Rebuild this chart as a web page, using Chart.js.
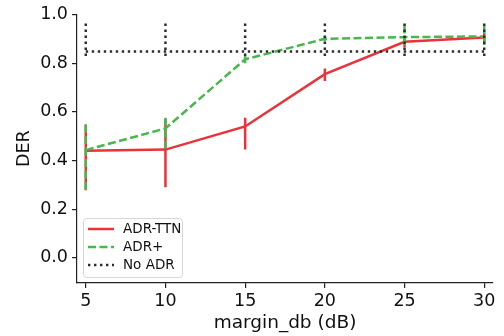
<!DOCTYPE html>
<html>
<head>
<meta charset="utf-8">
<script src="https://cdn.jsdelivr.net/npm/chart.js@4.4.0/dist/chart.umd.min.js"></script>
<style>
html,body{margin:0;padding:0;background:#fff;}
#wrap{width:504px;height:336px;}
</style>
</head>
<body>
<div id="wrap"><canvas id="c" width="504" height="336"></canvas></div>
<script>
const margins = [5, 10, 15, 20, 25, 30];
const xTicks = [5, 10, 15, 20, 25, 30];
const yTicks = [0.0, 0.2, 0.4, 0.6, 0.8, 1.0];

const ttnMean = [0.440, 0.445, 0.540, 0.755, 0.888, 0.906];
const ttnLow  = [0.278, 0.290, 0.445, 0.727, 0.865, 0.890];
const ttnHigh = [0.548, 0.570, 0.576, 0.778, 0.905, 0.925];

const plusMean = [0.443, 0.532, 0.816, 0.900, 0.907, 0.910];
const plusLow  = [0.278, 0.438, 0.800, 0.890, 0.870, 0.870];
const plusHigh = [0.548, 0.576, 0.830, 0.912, 0.955, 0.955];

const noAdrMean = [0.848, 0.848, 0.848, 0.848, 0.848, 0.848];
const noAdrLow  = [0.820, 0.820, 0.820, 0.820, 0.820, 0.820];
const noAdrHigh = [0.963, 0.963, 0.963, 0.963, 0.963, 0.963];

const RED = 'rgb(236,50,56)';
const GREEN = 'rgb(72,184,76)';
const BLACK = 'rgb(45,45,45)';
const TXT = '#111';

const series = [
  {label: 'ADR-TTN', mean: ttnMean, low: ttnLow, high: ttnHigh, color: RED, dash: [], order: 2},
  {label: 'ADR+', mean: plusMean, low: plusLow, high: plusHigh, color: GREEN, dash: [8, 3.5], order: 1},
  {label: 'No ADR', mean: noAdrMean, low: noAdrLow, high: noAdrHigh, color: BLACK, dash: [2.4, 3.6], order: 0}
];

const datasets = [];
series.forEach(s => {
  datasets.push({
    label: s.label,
    data: margins.map((m, i) => ({x: m, y: s.mean[i]})),
    borderColor: s.color,
    backgroundColor: s.color,
    borderWidth: 2.5,
    borderDash: s.dash,
    pointRadius: 0,
    tension: 0,
    order: s.order
  });
  margins.forEach((m, i) => {
    datasets.push({
      label: s.label + ' err',
      data: [{x: m, y: s.high[i]}, {x: m, y: s.low[i]}],
      borderColor: s.color,
      borderWidth: 2.5,
      borderDash: s.dash,
      pointRadius: 0,
      order: s.order
    });
  });
});

const legendPlugin = {
  id: 'boxLegend',
  afterDraw(chart) {
    const ctx = chart.ctx;
    const area = chart.chartArea;
    const x0 = area.left + 6, y0 = area.bottom - 65, w = 99, h = 59;
    ctx.save();
    ctx.fillStyle = 'rgba(255,255,255,0.85)';
    ctx.strokeStyle = 'rgb(214,214,214)';
    ctx.lineWidth = 1;
    ctx.beginPath();
    ctx.roundRect(x0 + 0.5, y0 + 0.5, w, h, 3);
    ctx.fill();
    ctx.stroke();
    ctx.font = '13.5px "DejaVu Sans"';
    ctx.textBaseline = 'middle';
    series.forEach((s, i) => {
      const cy = y0 + 11 + i * 18;
      ctx.strokeStyle = s.color;
      ctx.lineWidth = 2.5;
      ctx.setLineDash(s.dash);
      ctx.beginPath();
      ctx.moveTo(x0 + 5, cy);
      ctx.lineTo(x0 + 31, cy);
      ctx.stroke();
      ctx.setLineDash([]);
      ctx.fillStyle = TXT;
      ctx.fillText(s.label, x0 + 40, cy + 0.5);
    });
    ctx.restore();
  }
};

new Chart(document.getElementById('c'), {
  type: 'line',
  data: {datasets},
  plugins: [legendPlugin],
  options: {
    responsive: false,
    animation: false,
    layout: {padding: {top: 13, right: 11, left: 0, bottom: 0}},
    plugins: {legend: {display: false}, tooltip: {enabled: false}},
    scales: {
      x: {
        type: 'linear',
        min: 4.45,
        max: 30.55,
        afterBuildTicks: a => { a.ticks = xTicks.map(v => ({value: v})); },
        afterFit: a => { a.height = 53; },
        grid: {drawOnChartArea: false, drawTicks: true, tickLength: 5, color: '#222', lineWidth: 1.2},
        border: {display: true, color: '#222', width: 1.2},
        ticks: {color: TXT, font: {family: 'DejaVu Sans', size: 17.5}, padding: 3, maxRotation: 0,
                callback: v => String(v)},
        title: {display: true, text: 'margin_db (dB)', color: TXT, font: {family: 'DejaVu Sans', size: 18.5}, padding: {top: 0, bottom: 2}}
      },
      y: {
        type: 'linear',
        min: -0.103,
        max: 1.0,
        afterBuildTicks: a => { a.ticks = yTicks.map(v => ({value: v})); },
        afterFit: a => { a.width = 77; },
        grid: {drawOnChartArea: false, drawTicks: true, tickLength: 5, color: '#222', lineWidth: 1.2},
        border: {display: true, color: '#222', width: 1.2},
        ticks: {color: TXT, font: {family: 'DejaVu Sans', size: 17.5}, padding: 4,
                callback: v => Number(v).toFixed(1)},
        title: {display: true, text: 'DER', color: TXT, font: {family: 'DejaVu Sans', size: 17.5}, padding: {top: 14, bottom: 0}}
      }
    }
  }
});
</script>
</body>
</html>
